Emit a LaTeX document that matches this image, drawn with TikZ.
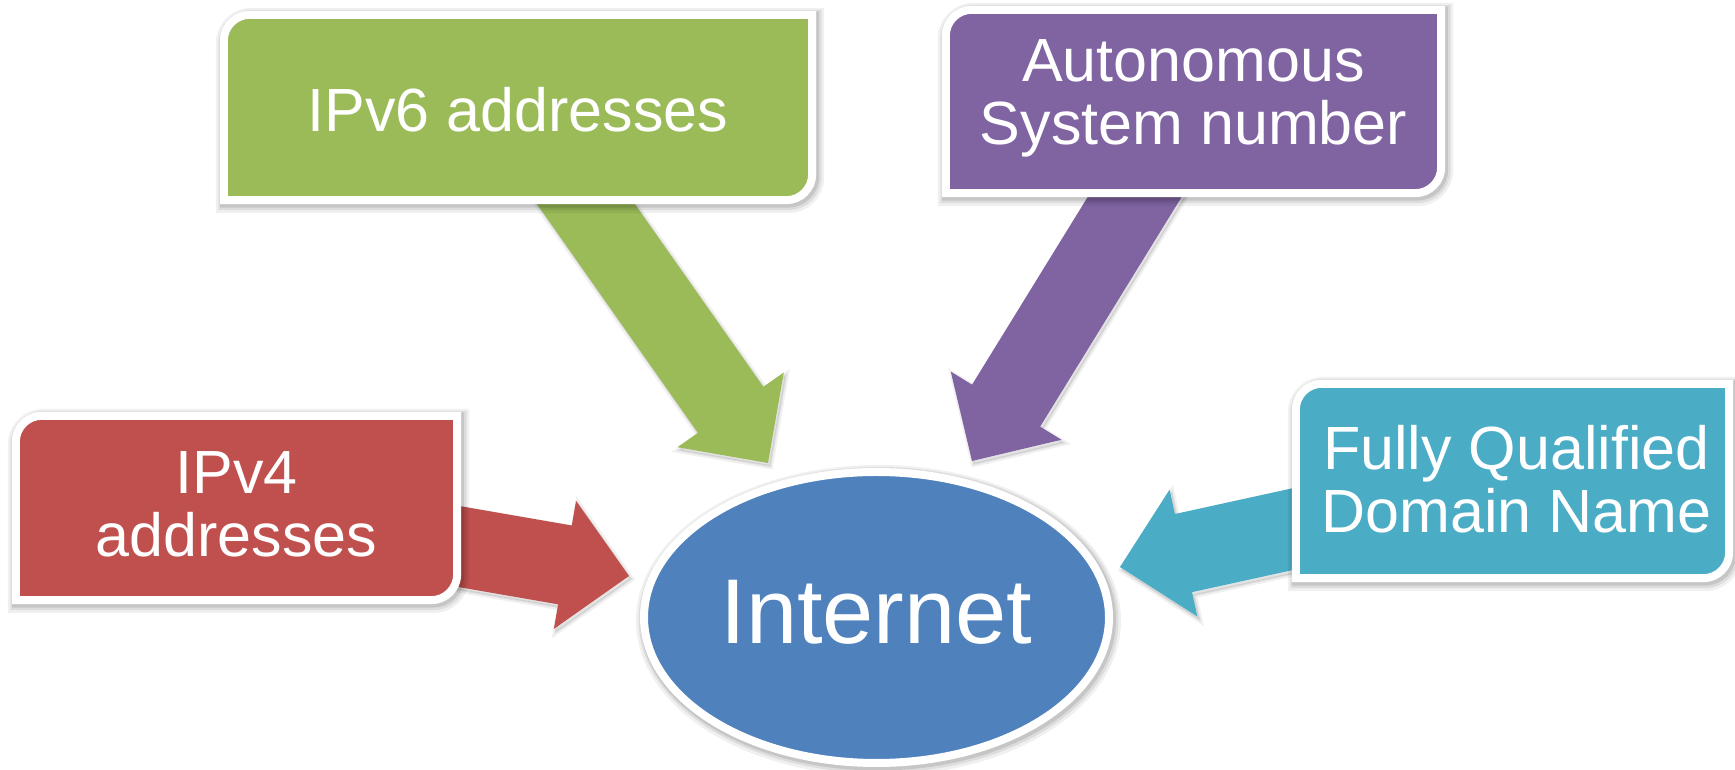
\documentclass[tikz,border=0pt]{standalone}
\usepackage{fontspec}
\setmainfont{Liberation Sans}
\usetikzlibrary{calc,shapes.geometric}
\definecolor{cgreen}{HTML}{9BBB59}
\definecolor{cpurple}{HTML}{8064A2}
\definecolor{cred}{HTML}{C0504D}
\definecolor{ccyan}{HTML}{4BACC6}
\definecolor{cblue}{HTML}{4F81BD}
\tikzset{
  halo/.style={
    preaction={draw=black, draw opacity=0.06, line width=20pt, transform canvas={xshift=2pt,yshift=-3pt}},
    preaction={draw=black, draw opacity=0.08, line width=15pt, transform canvas={xshift=2pt,yshift=-2.5pt}},
    preaction={draw=black, draw opacity=0.10, line width=11pt, transform canvas={xshift=1.5pt,yshift=-2pt}}},
  arrowshade/.style={
    preaction={draw=black, draw opacity=0.06, line width=6pt, fill=black, fill opacity=0.06, transform canvas={xshift=2pt,yshift=-3pt}},
    preaction={draw=black, draw opacity=0.08, line width=2pt, transform canvas={xshift=2pt,yshift=-3pt}}},
  boxframe/.style={fill=#1, draw=white, line width=8pt, halo},
  arrowfill/.style={fill=#1, arrowshade},
  lbl/.style={text=white, align=center, font=\fontsize{61}{63}\selectfont, inner sep=0pt},
  biglbl/.style={text=white, font=\fontsize{92}{92}\selectfont, inner sep=0pt},
}
\newcommand\diagbox[2]{%
  \path[boxframe=#2] (#1.south west) -- ([yshift=-26pt]#1.north west)
    arc[start angle=180, end angle=90, radius=26pt] -- (#1.north east)
    -- ([yshift=26pt]#1.south east)
    arc[start angle=0, end angle=-90, radius=26pt] -- cycle;}
\newcommand\blockarr[3]{%
  \coordinate (#2h) at ($(#2)!65pt!(#1.center)$);
  \path[arrowfill=#3] ($(#1.center)!40pt!90:(#2)$) -- ($(#2h)!40pt!90:(#2)$)
    -- ($(#2h)!65pt!90:(#2)$) -- (#2) -- ($(#2h)!65pt!-90:(#2)$)
    -- ($(#2h)!40pt!-90:(#2)$) -- ($(#1.center)!40pt!-90:(#2)$) -- cycle;}
\begin{document}
\begin{tikzpicture}[x=1pt, y=1pt]
\useasboundingbox (0,0) rectangle (1735,770);
% box geometry (border mid-lines)
\node[minimum width=588pt, minimum height=185pt, inner sep=0pt] (ipv6) at (518,662.5) {};
\node[minimum width=495pt, minimum height=183pt, inner sep=0pt] (asn) at (1193.5,668.5) {};
\node[minimum width=441pt, minimum height=184pt, inner sep=0pt] (ipv4) at (236.5,262) {};
\node[minimum width=433pt, minimum height=194pt, inner sep=0pt] (fqdn) at (1512.5,289) {};
% arrow tips
\coordinate (tipsix) at (768,307);
\coordinate (tipasn) at (972,309);
\coordinate (tipfour) at (629,194);
\coordinate (tipfqdn) at (1120,203);
% arrows
\blockarr{ipv6}{tipsix}{cgreen}
\blockarr{asn}{tipasn}{cpurple}
\blockarr{ipv4}{tipfour}{cred}
\blockarr{fqdn}{tipfqdn}{ccyan}
% boxes
\diagbox{ipv6}{cgreen}
\diagbox{asn}{cpurple}
\diagbox{ipv4}{cred}
\diagbox{fqdn}{ccyan}
% centre ellipse
\node[ellipse, fill=cblue, draw=white, line width=8pt, minimum width=465pt,
      minimum height=291pt, inner sep=0pt, halo] (inet) at (876.5,152.5) {};
% labels
\node[lbl] (ipv6t) at ([yshift=-2pt]ipv6.center) {IPv6 addresses};
\node[lbl] (asnt) at ([yshift=3pt]asn.center) {Autonomous\\System number};
\node[lbl] (ipv4t) at ([yshift=4pt]ipv4.center) {IPv4\\addresses};
\node[lbl] (fqdnt) at ([xshift=4pt,yshift=2pt]fqdn.center) {Fully Qualified\\Domain Name};
\node[biglbl] (inett) at ([yshift=5pt]inet.center) {Internet};
\end{tikzpicture}
\end{document}
